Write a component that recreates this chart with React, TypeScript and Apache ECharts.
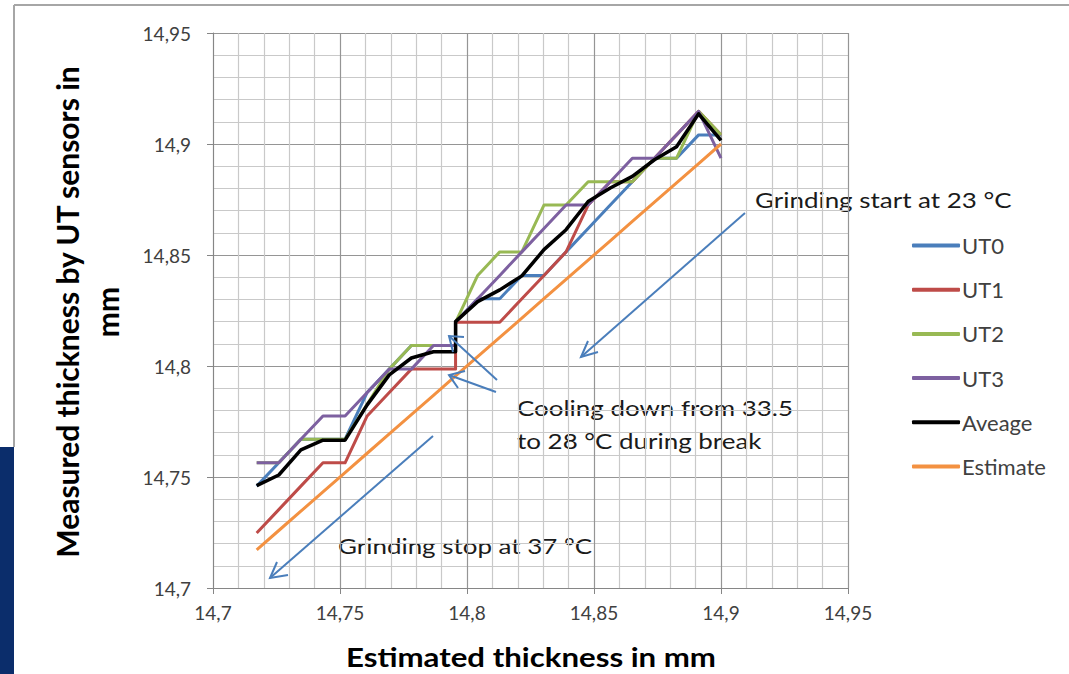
import React, { useEffect, useRef } from "react";
import * as echarts from "echarts";

// Estimated thickness (x) for each sample; the duplicate is the break
const X_EST = [14.7172, 14.7259, 14.7346, 14.7433, 14.752, 14.7607, 14.7694, 14.7781, 14.7868, 14.7955, 14.7955, 14.8042, 14.8129, 14.8216, 14.8303, 14.839, 14.8477, 14.8564, 14.8651, 14.8738, 14.8825, 14.8912, 14.9];
const UT0 = [14.7459, 14.7564, 14.767, 14.767, 14.767, 14.7881, 14.7986, 14.8092, 14.8092, 14.8092, 14.8197, 14.8303, 14.8303, 14.8408, 14.8408, 14.8514, 14.8619, 14.8725, 14.883, 14.8936, 14.8936, 14.9041, 14.9041];
const UT1 = [14.7248, 14.7353, 14.7459, 14.7564, 14.7564, 14.7775, 14.7881, 14.7986, 14.7986, 14.7986, 14.8197, 14.8197, 14.8197, 14.8303, 14.8408, 14.8514, 14.8725, 14.883, 14.883, 14.8936, 14.9041, 14.9147, 14.9041];
const UT2 = [14.7564, 14.7564, 14.767, 14.767, 14.767, 14.7828, 14.7986, 14.8092, 14.8092, 14.8092, 14.8197, 14.8408, 14.8514, 14.8514, 14.8725, 14.8725, 14.883, 14.883, 14.883, 14.8936, 14.8936, 14.9147, 14.9041];
const UT3 = [14.7564, 14.7564, 14.767, 14.7775, 14.7775, 14.7881, 14.7986, 14.7986, 14.8092, 14.8092, 14.8197, 14.8303, 14.8408, 14.8514, 14.8619, 14.8725, 14.8725, 14.883, 14.8936, 14.8936, 14.9041, 14.9147, 14.8936];
const AVEAGE = [14.7461, 14.7509, 14.7622, 14.7666, 14.7666, 14.7825, 14.796, 14.8036, 14.8064, 14.8064, 14.82, 14.829, 14.8343, 14.8406, 14.8524, 14.8614, 14.8741, 14.8802, 14.8854, 14.8929, 14.8988, 14.9136, 14.9016];
const ESTIMATE = [14.7172, 14.7259, 14.7346, 14.7433, 14.752, 14.7607, 14.7694, 14.7781, 14.7868, 14.7955, 14.7955, 14.8042, 14.8129, 14.8216, 14.8303, 14.839, 14.8477, 14.8564, 14.8651, 14.8738, 14.8825, 14.8912, 14.9];

const SERIES_NAMES = ["UT0", "UT1", "UT2", "UT3", "Aveage", "Estimate"];
const SERIES_VALUES = [UT0, UT1, UT2, UT3, AVEAGE, ESTIMATE];
const SERIES_COLORS = ["#4A7EBB", "#BE4B48", "#98B954", "#7D60A0", "#000000", "#F39141"];
const SERIES_WIDTHS = [3, 3, 3, 3, 3.5, 3];

const AXIS_MIN = 14.7;
const AXIS_MAX = 14.95;
const AXIS_STEP = 0.05;

const X_TITLE = "Estimated thickness in mm";
const Y_TITLE = "Measured thickness by UT sensors in\nmm";
const NOTE_START = "Grinding start at 23 °C";
const NOTE_COOL_1 = "Cooling down from 33.5";
const NOTE_COOL_2 = "to 28 °C during break";
const NOTE_STOP = "Grinding stop at 37 °C";

const FONT = "Lato, 'Open Sans', sans-serif";
const ARROW = "#4A7EBB";
const SX = 1.18;

const fmt = (v: number) => String(Math.round(v * 100) / 100).replace(".", ",");

function arrow(x1: number, y1: number, tx: number, ty: number, a1: number[], a2: number[]) {
  return [
    { type: "line", shape: { x1, y1, x2: tx, y2: ty }, style: { stroke: ARROW, lineWidth: 2 }, silent: true, z: 10 },
    { type: "polyline", shape: { points: [a1, [tx, ty], a2] }, style: { stroke: ARROW, lineWidth: 2, fill: null }, silent: true, z: 10 },
  ];
}

function note(x: number, y: number, text: string) {
  return {
    type: "text", x, y, scaleX: SX,
    style: { text, font: `22px ${FONT}`, fill: "#1a1a1a", textAlign: "left", textVerticalAlign: "middle" },
  };
}

export default function App() {
  const ref = useRef<HTMLDivElement>(null);
  useEffect(() => {
    if (!ref.current) return;
    const chart = echarts.init(ref.current, null, { renderer: "svg" });
    const axisCommon = {
      type: "value" as const,
      min: AXIS_MIN,
      max: AXIS_MAX,
      interval: AXIS_STEP,
      axisLine: { show: true, onZero: false, lineStyle: { color: "#868686", width: 1 } },
      axisTick: { show: true, length: 6, lineStyle: { color: "#868686" } },
      splitLine: { show: true, lineStyle: { color: "#959595", width: 1.2 } },
      minorTick: { show: false, splitNumber: 5 },
      minorSplitLine: { show: true, lineStyle: { color: "#C9C9C9", width: 1.2 } },
    };
    chart.setOption({
      animation: false,
      backgroundColor: "#ffffff",
      grid: { left: 213, top: 33, width: 635, height: 555, containLabel: false },
      xAxis: {
        ...axisCommon,
        axisLabel: { formatter: fmt, color: "#404040", fontSize: 19, fontFamily: FONT, margin: 15 },
      },
      yAxis: {
        ...axisCommon,
        axisLabel: { formatter: fmt, color: "#404040", fontSize: 19, fontFamily: FONT, margin: 22 },
      },
      legend: {
        orient: "vertical",
        left: 912,
        top: 234,
        padding: 0,
        itemWidth: 48,
        itemHeight: 4,
        itemGap: 21.2,
        icon: "roundRect",
        data: SERIES_NAMES,
        textStyle: { fontSize: 22, fontFamily: FONT, color: "#404040", lineHeight: 23, padding: [0, 0, 0, -3] },
      },
      series: SERIES_NAMES.map((name, k) => ({
        name,
        type: "line",
        data: X_EST.map((x, i) => [x, SERIES_VALUES[k][i]]),
        showSymbol: false,
        symbol: "none",
        color: SERIES_COLORS[k],
        lineStyle: { color: SERIES_COLORS[k], width: SERIES_WIDTHS[k], join: "round" },
      })),
      graphic: [
        { type: "line", shape: { x1: 14, y1: 5, x2: 1069, y2: 5 }, style: { stroke: "#A6A6A6", lineWidth: 2 }, silent: true },
        { type: "line", shape: { x1: 14, y1: 5, x2: 14, y2: 447 }, style: { stroke: "#A6A6A6", lineWidth: 2 }, silent: true },
        { type: "rect", shape: { x: 0, y: 447, width: 14, height: 227 }, style: { fill: "#0B2D6B" }, silent: true },
        {
          type: "text", x: 531, y: 657, scaleX: 1.2,
          style: { text: X_TITLE, font: `bold 26px ${FONT}`, fill: "#000", textAlign: "center", textVerticalAlign: "middle" },
        },
        {
          type: "text", x: 87, y: 312, rotation: Math.PI / 2,
          style: { text: Y_TITLE, font: `bold 30px ${FONT}`, fill: "#000", textAlign: "center", textVerticalAlign: "middle", lineHeight: 40 },
        },
        note(755, 199, NOTE_START),
        note(517, 407, NOTE_COOL_1),
        note(517, 440, NOTE_COOL_2),
        note(338, 545, NOTE_STOP),
        ...arrow(745, 213, 581, 357, [598, 352], [588, 341]),
        ...arrow(497, 380, 449, 336, [464, 337], [453, 352]),
        ...arrow(496, 392, 449, 375, [465, 371], [458, 388]),
        ...arrow(433, 436, 270, 578, [288, 575], [277, 562]),
      ],
    });
    return () => chart.dispose();
  }, []);
  return <div ref={ref} style={{ position: "fixed", left: 0, top: 0, width: 1069, height: 674, background: "#fff" }} />;
}
